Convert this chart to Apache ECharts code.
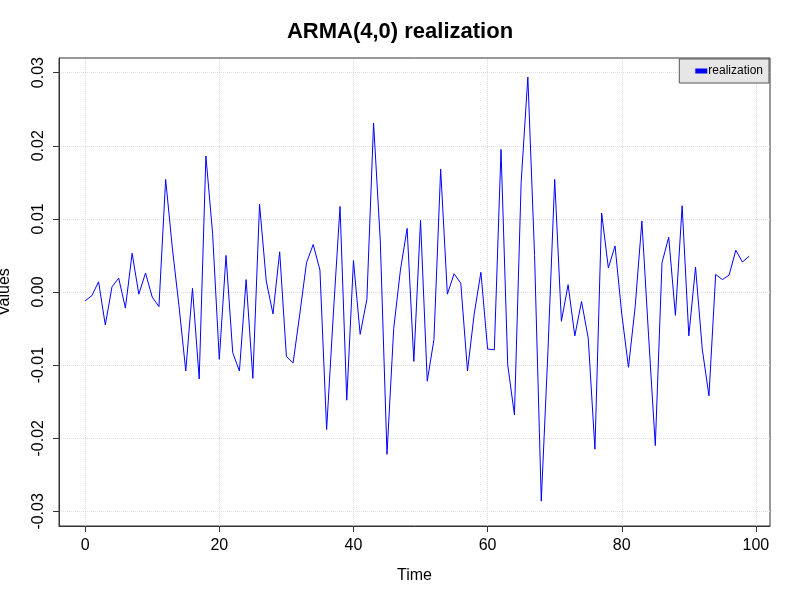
<!DOCTYPE html>
<html>
<head>
<meta charset="utf-8">
<script src="https://cdn.jsdelivr.net/npm/echarts@6/dist/echarts.min.js"></script>
<style>html,body{margin:0;padding:0;background:#fff}#main{width:800px;height:600px}</style>
</head>
<body>
<div id="main"></div>
<script>
// ARMA(4,0) realization, values
var times = [];
for (var i = 0; i < 100; i++) times.push(i);
var values = [
	-0.0012, -0.0005, 0.0014, -0.0045, 0.0007, 0.0019, -0.0022, 0.0053, -0.0003, 0.0026,
	-0.0007, -0.0020, 0.0154, 0.0060, -0.0020, -0.0108, 0.0005, -0.0119, 0.0186, 0.0080,
	-0.0092, 0.0050, -0.0083, -0.0108, 0.0017, -0.0118, 0.0120, 0.0015, -0.0030, 0.0055,
	-0.0088, -0.0097, -0.0030, 0.0040, 0.0065, 0.0030, -0.0188, -0.0030, 0.0117, -0.0148,
	0.0043, -0.0058, -0.0010, 0.0231, 0.0070, -0.0222, -0.0050, 0.0030, 0.0087, -0.0095,
	0.0098, -0.0122, -0.0065, 0.0168, -0.0003, 0.0025, 0.0012, -0.0108, -0.0030, 0.0027,
	-0.0078, -0.0079, 0.0195, -0.0100, -0.0168, 0.0150, 0.0294, 0.0050, -0.0286, -0.0080,
	0.0154, -0.0040, 0.0010, -0.0060, -0.0013, -0.0063, -0.0215, 0.0108, 0.0033, 0.0063,
	-0.0030, -0.0103, -0.0020, 0.0097, -0.0060, -0.0210, 0.0040, 0.0075, -0.0032, 0.0118,
	-0.0060, 0.0034, -0.0078, -0.0142, 0.0024, 0.0017, 0.0023, 0.0057, 0.0041, 0.0049
];
var xTicks = [0, 20, 40, 60, 80, 100];
var yTicks = [-0.03, -0.02, -0.01, 0, 0.01, 0.02, 0.03];
var points = times.map(function(t, i){ return [t, values[i]]; });

var chart = echarts.init(document.getElementById("main"));
var font = "Liberation Sans";
var option = {
	animation: false,
	textStyle: {fontFamily: font},
	title: {
		text: "ARMA(4,0) realization",
		left: "center", top: 16,
		textStyle: {fontSize: 22, fontWeight: "bold", color: "#000", fontFamily: font}
	},
	legend: {
		right: 31, top: 59,
		backgroundColor: "#e6e6e6",
		borderColor: "#555", borderWidth: 1, borderRadius: 0,
		padding: [6, 6, 6, 16],
		itemWidth: 12, itemHeight: 5,
		icon: "rect",
		textStyle: {fontSize: 12, color: "#000", padding: [0, 0, 0, -4]},
		data: [{name: "realization", itemStyle: {color: "#0000ff", borderWidth: 0}, lineStyle: {width: 0, opacity: 0}}]
	},
	grid: {left: 59, right: 30, top: 58, bottom: 74, outerBoundsMode: "none", containLabel: false,
		show: true, borderColor: "#333", borderWidth: 1},
	xAxis: {
		type: "value", min: -3.9, max: 102.1,
		name: "Time", nameLocation: "middle", nameGap: 42,
		nameTextStyle: {fontSize: 16, color: "#000"},
		axisLine: {show: true, onZero: false, lineStyle: {color: "#333"}},
		axisTick: {show: true, length: 6, lineStyle: {color: "#333"}, customValues: xTicks},
		axisLabel: {fontSize: 16, color: "#000", margin: 12, customValues: xTicks},
		splitLine: {show: false}
	},
	yAxis: {
		type: "value", min: -0.032, max: 0.032,
		name: "Values", nameLocation: "middle", nameGap: 46,
		nameTextStyle: {fontSize: 16, color: "#000"},
		axisLine: {show: true, onZero: false, lineStyle: {color: "#333"}},
		axisTick: {show: true, length: 6, lineStyle: {color: "#333"}, customValues: yTicks},
		axisLabel: {fontSize: 16, color: "#000", rotate: 90, margin: 12, customValues: yTicks,
			formatter: function(v){ return v.toFixed(2); }},
		splitLine: {show: false}
	},
	series: [
		{
			name: "realization", type: "line", data: points,
			showSymbol: false, color: "#0000ff",
			lineStyle: {color: "#0000ff", width: 1},
			markLine: {
				silent: true, symbol: "none", label: {show: false}, z: 0,
				lineStyle: {color: "#dddddd", type: "dotted", width: 1},
				data: xTicks.map(function(v){ return {xAxis: v}; })
					.concat(yTicks.map(function(v){ return {yAxis: v}; }))
			}
		}
	]
};
chart.setOption(option);
</script>
</body>
</html>
